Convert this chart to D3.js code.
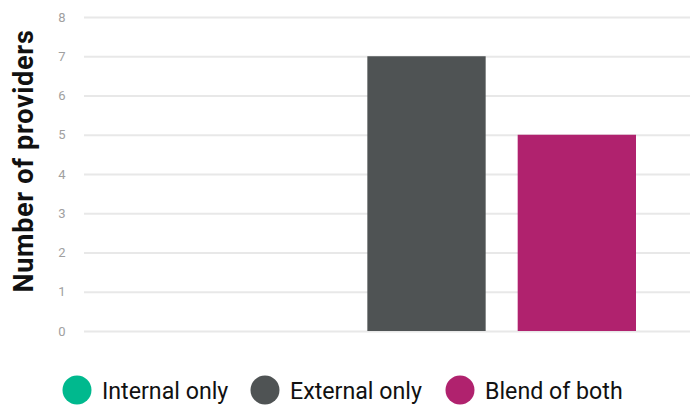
<!DOCTYPE html>
<html>
<head>
<meta charset="utf-8">
<script src="https://cdn.jsdelivr.net/npm/d3@7"></script>
<style>
  html, body { margin: 0; padding: 0; background: #fff; }
  svg { display: block; }
  text { font-family: Roboto, "Noto Sans", sans-serif; }
</style>
</head>
<body>
<svg id="chart" width="699" height="405"></svg>
<script>
// Provider counts by sourcing approach
const categories = ["Internal only", "External only", "Blend of both"];
const values = [0, 7, 5];
const colors = ["#00b98e", "#4f5354", "#b0226e"];
const yTicks = [0, 1, 2, 3, 4, 5, 6, 7, 8];
const yTitle = "Number of providers";

const svg = d3.select("#chart");
const plot = { left: 84, right: 690, top: 17, bottom: 331 };

const y = d3.scaleLinear().domain([0, 8]).range([plot.bottom, plot.top]);
const x = d3.scaleBand()
  .domain(categories)
  .range([217, 636])
  .paddingInner(0.213)
  .paddingOuter(0);

// Gridlines and tick labels
const yAxis = d3.axisLeft(y)
  .tickValues(yTicks)
  .tickSize(-(plot.right - plot.left))
  .tickPadding(22)
  .tickFormat(d3.format("d"));

const gAxis = svg.append("g")
  .attr("transform", `translate(${plot.left},0)`)
  .call(yAxis);
gAxis.select(".domain").remove();
gAxis.selectAll(".tick line")
  .attr("stroke", "#e8e8e8")
  .attr("stroke-width", 2);
gAxis.selectAll(".tick text")
  .attr("fill", "#a0a0a0")
  .attr("font-size", 13)
  .attr("text-anchor", "middle");

// Bars
svg.append("g")
  .selectAll("rect")
  .data(categories)
  .join("rect")
  .attr("x", d => x(d))
  .attr("width", x.bandwidth())
  .attr("y", (d, i) => y(values[i]))
  .attr("height", (d, i) => y(0) - y(values[i]))
  .attr("fill", (d, i) => colors[i]);

// Y axis title
svg.append("text")
  .attr("transform", `translate(33,161) rotate(-90)`)
  .attr("text-anchor", "middle")
  .attr("font-size", 27)
  .attr("font-weight", 700)
  .attr("letter-spacing", 0.7)
  .attr("fill", "#111")
  .text(yTitle);

// Legend
const legendX = [77, 265, 460];
const legend = svg.append("g");
categories.forEach((c, i) => {
  const g = legend.append("g").attr("transform", `translate(${legendX[i]},390)`);
  g.append("ellipse").attr("rx", 14.5).attr("ry", 14.5).attr("fill", colors[i]);
  g.append("text")
    .attr("x", 25)
    .attr("y", 8.5)
    .attr("font-size", 23.2)
    .attr("fill", "#111")
    .text(c);
});
</script>
</body>
</html>
